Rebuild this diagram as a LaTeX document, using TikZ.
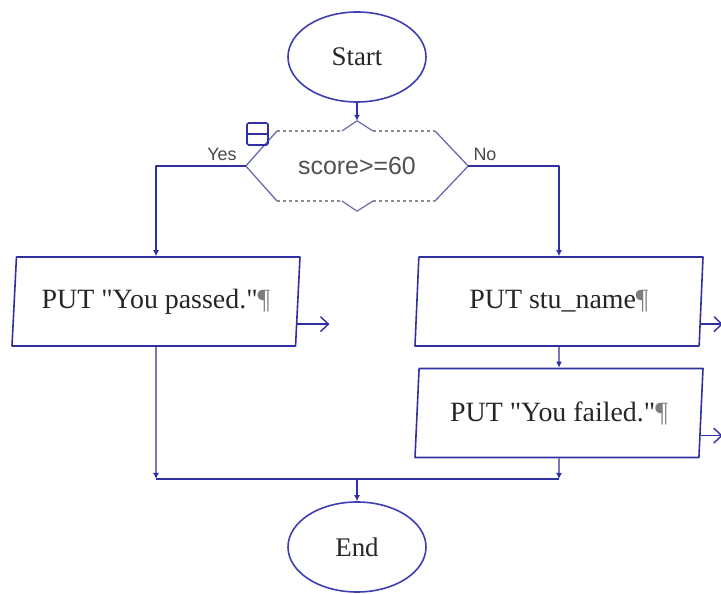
\documentclass[tikz,border=0pt]{standalone}
\usepackage{fontspec}
\setmainfont{Liberation Serif}[Ligatures=TeXOff]
\newfontfamily\decfont{Liberation Sans}
\usetikzlibrary{shapes.geometric,arrows.meta,calc}
\definecolor{flowblue}{RGB}{48,48,160}
\definecolor{ellblue}{RGB}{62,62,178}
\definecolor{edgeblue}{RGB}{105,105,172}
\definecolor{dashgray}{RGB}{140,140,140}
\definecolor{textgray}{RGB}{38,38,38}
\definecolor{pilgray}{RGB}{125,125,125}
\newcommand\markpil{{\color{pilgray}\P}}
\tikzset{
  term_node/.style={draw=ellblue,line width=1.6bp,ellipse,minimum width=138bp,minimum height=90bp,
    font=\fontsize{27}{31}\selectfont,text=textgray},
  io_node/.style={draw=flowblue,line width=1.6bp,trapezium,trapezium left angle=80,trapezium right angle=100,
    trapezium stretches body,minimum width=288bp,minimum height=89bp,inner sep=0pt,
    font=\fontsize{28}{32}\selectfont,text=textgray},
  flow/.style={draw=flowblue,line width=1.4bp,-{Latex[length=6bp,width=6bp]}},
  put_arrow/.style={draw=flowblue,line width=1.4bp,-{Straight Barb[length=8bp,width=15bp]}},
}
\begin{document}
\begin{tikzpicture}[line join=bevel]
        \useasboundingbox (0bp,0bp) rectangle (721bp,594bp);
        %%
        \node (node_start) at (357bp,537bp) [term_node] {Start};
        \node (node_dec) at (357bp,428bp) [draw=none,minimum width=222bp,minimum height=90bp,inner sep=0pt,
          font=\decfont\fontsize{25}{29}\selectfont,text=textgray!80] {score>=60};
        \node (node_pass) at (156bp,292.5bp) [io_node] {PUT "You passed."\markpil};
        \node (node_name) at (559bp,292.5bp) [io_node] {PUT stu\_name\markpil};
        \node (node_fail) at (559bp,181bp) [io_node] {PUT "You failed."\markpil};
        \node (node_end) at (357bp,47bp) [term_node] {End};
        % decision outline
        \draw [edgeblue,line width=1.3bp] (277bp,463bp) -- (node_dec.west) -- (277bp,393bp);
        \draw [edgeblue,line width=1.3bp] (435bp,463bp) -- (node_dec.east) -- (435bp,393bp);
        \draw [dashgray,line width=1.2bp,dashed] (277bp,463bp) -- (342bp,463bp) (373bp,463bp) -- (435bp,463bp);
        \draw [dashgray,line width=1.2bp,dashed] (277bp,393bp) -- (342bp,393bp) (373bp,393bp) -- (435bp,393bp);
        \draw [edgeblue,line width=1.2bp] (342bp,463bp) -- (node_dec.north) -- (373bp,463bp);
        \draw [edgeblue,line width=1.2bp] (342bp,393bp) -- (node_dec.south) -- (373bp,393bp);
        \draw [flowblue,line width=1.6bp,rounded corners=1.5bp] (247bp,449bp) rectangle (268bp,471bp);
        \draw [flowblue,line width=1.6bp] (247bp,460bp) -- (268bp,460bp);
        \node (node_yes) at (222bp,440bp) [font=\decfont\fontsize{18}{20}\selectfont,text=textgray!85] {Yes};
        \node (node_no) at (485bp,440bp) [font=\decfont\fontsize{18}{20}\selectfont,text=textgray!85] {No};
        %
        \coordinate (join_left) at (156bp,115bp);
        \coordinate (join_right) at (559bp,115bp);
        \coordinate (join_mid) at (357bp,115bp);
        \draw [flow] (node_start) -- (node_dec.north);
        \draw [flow] (node_dec.west) -| (node_pass.north);
        \draw [flow] (node_dec.east) -| (node_name.north);
        \draw [flow] (node_name) -- (node_fail);
        \draw [flow] (node_pass) -- (join_left);
        \draw [flow] (node_fail) -- (join_right);
        \draw [flowblue,line width=1.4bp] (join_left) -- (join_right);
        \draw [flow] (join_mid) -- (node_end);
        %
        \draw [put_arrow] ($(node_pass.bottom right corner)!0.25!(node_pass.top right corner)$) -- ++(32bp,0bp);
        \draw [put_arrow] ($(node_name.bottom right corner)!0.25!(node_name.top right corner)$) -- ++(22bp,0bp);
        \draw [put_arrow] ($(node_fail.bottom right corner)!0.25!(node_fail.top right corner)$) -- ++(22bp,0bp);
        %
        \end{tikzpicture}
\end{document}
